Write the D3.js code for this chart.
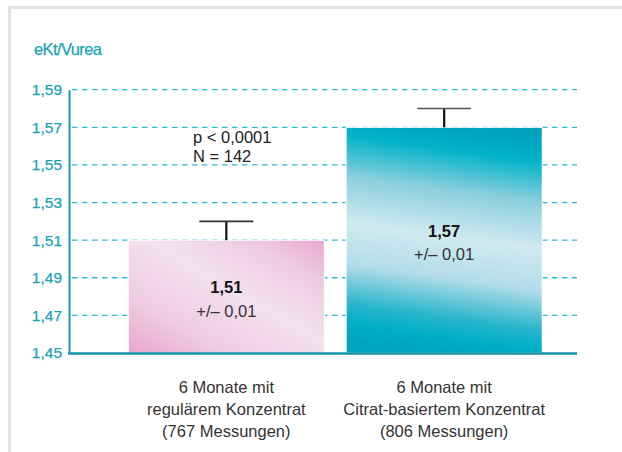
<html>
<head>
<meta charset="utf-8">
<script src="https://cdnjs.cloudflare.com/ajax/libs/d3/7.8.5/d3.min.js"></script>
<style>
  body { margin: 0; background: #fff; }
  svg text { font-family: "Liberation Sans", Arial, sans-serif; }
</style>
</head>
<body>
<div id="chart"></div>
<script>
// data
var categories = [
  ["6 Monate mit", "regulärem Konzentrat", "(767 Messungen)"],
  ["6 Monate mit", "Citrat-basiertem Konzentrat", "(806 Messungen)"]
];
var values = [1.51, 1.57];
var errors = [0.01, 0.01];
var valueLabels = ["1,51", "1,57"];
var errLabels = ["+/\u2013 0,01", "+/\u2013 0,01"];
var ticks = [1.45, 1.47, 1.49, 1.51, 1.53, 1.55, 1.57, 1.59];
var statLines = ["p < 0,0001", "N = 142"];

var W = 622, H = 452;
var fmt = function(v){ return d3.format(".2f")(v).replace(".", ","); };

var svg = d3.select("#chart").append("svg")
  .attr("width", W).attr("height", H);

// gradients
var defs = svg.append("defs");
var pink = defs.append("linearGradient").attr("id", "gPink")
  .attr("x1", 0).attr("y1", 1).attr("x2", 1).attr("y2", 0);
[[0, "#e8a6cd"], [0.25, "#efcbe1"], [0.55, "#f3e2ee"], [0.8, "#eecbe0"], [1, "#e8a8cf"]]
  .forEach(function(s){ pink.append("stop").attr("offset", s[0]).attr("stop-color", s[1]); });
var teal = defs.append("linearGradient").attr("id", "gTeal")
  .attr("x1", 0.56).attr("y1", 0).attr("x2", 0.44).attr("y2", 1);
[[0, "#00a2be"], [0.1, "#00b3c9"], [0.28, "#8ccfdd"], [0.48, "#d0e9f0"], [0.66, "#b4dde8"], [0.84, "#26b5cb"], [0.92, "#00afc6"], [1, "#00a4c0"]]
  .forEach(function(s){ teal.append("stop").attr("offset", s[0]).attr("stop-color", s[1]); });

// frame
svg.append("path").attr("d", "M9.5," + H + "V7.5H" + W)
  .attr("fill", "none").attr("stroke", "#e4e4e4").attr("stroke-width", 3);

var y = d3.scaleLinear().domain([1.45, 1.59]).range([353, 89.7]);
var x = d3.scaleBand().domain([0, 1]).range([106.5, 564])
  .paddingInner(0.1).paddingOuter(0.1);
var x0 = 69, x1 = 577;

// title
svg.append("text").attr("x", 34).attr("y", 55)
  .attr("fill", "#1aa2b9").attr("font-size", 16.5).attr("letter-spacing", -0.6)
  .attr("stroke", "#1aa2b9").attr("stroke-width", 0.25)
  .text("eKt/Vurea");

// grid
svg.append("g").selectAll("line").data(ticks.slice(1)).join("line")
  .attr("x1", x0 + 3).attr("x2", x1)
  .attr("y1", function(d){ return y(d); }).attr("y2", function(d){ return y(d); })
  .attr("stroke", "#2cbcd2").attr("stroke-width", 1.3)
  .attr("stroke-dasharray", "5.5,4.5");

// y axis
var yAxis = svg.append("g").attr("transform", "translate(" + x0 + ",0)")
  .call(d3.axisLeft(y).tickValues(ticks).tickFormat(fmt).tickSize(0).tickPadding(7));
yAxis.select(".domain").attr("stroke", "#1896aa").attr("stroke-width", 2);
yAxis.selectAll("text").attr("fill", "#1aa0b7").attr("font-size", 15.5)
  .attr("stroke", "#1aa0b7").attr("stroke-width", 0.25)
  .attr("font-family", "Liberation Sans, Arial, sans-serif");

// bars
var idx = d3.range(values.length);
svg.append("g").selectAll("rect").data(idx).join("rect")
  .attr("x", function(i){ return x(i); })
  .attr("width", x.bandwidth())
  .attr("y", function(i){ return y(values[i]); })
  .attr("height", function(i){ return y(1.45) - y(values[i]); })
  .attr("fill", function(i){ return i === 0 ? "url(#gPink)" : "url(#gTeal)"; })
  .attr("stroke", "#fff").attr("stroke-width", 1);

// baseline
svg.append("line").attr("x1", x0 - 1).attr("x2", x1)
  .attr("y1", y(1.45) + 0.5).attr("y2", y(1.45) + 0.5)
  .attr("stroke", "#1495a9").attr("stroke-width", 2.5);

// error bars
var eb = svg.append("g");
idx.forEach(function(i){
  var cx = x(i) + x.bandwidth() / 2;
  eb.append("line").attr("x1", cx).attr("x2", cx)
    .attr("y1", y(values[i])).attr("y2", y(values[i] + errors[i]))
    .attr("stroke", "#111").attr("stroke-width", 2.2);
  eb.append("line").attr("x1", cx - 27).attr("x2", cx + 27)
    .attr("y1", y(values[i] + errors[i])).attr("y2", y(values[i] + errors[i]))
    .attr("stroke", i === 0 ? "#333" : "#555").attr("stroke-width", 1.6);
});

// value labels inside bars
var labelAt = [1.4819, 1.5117];
idx.forEach(function(i){
  var cx = x(i) + x.bandwidth() / 2;
  svg.append("text").attr("x", cx).attr("y", y(labelAt[i]))
    .attr("text-anchor", "middle").attr("font-size", 16.5).attr("font-weight", "bold")
    .attr("fill", "#111").text(valueLabels[i]);
  svg.append("text").attr("x", cx).attr("y", y(labelAt[i]) + 23.5)
    .attr("text-anchor", "middle").attr("font-size", 16.5)
    .attr("fill", "#333").text(errLabels[i]);
});

// stats text
svg.append("g").selectAll("text").data(statLines).join("text")
  .attr("x", 193).attr("y", function(d, k){ return 143 + k * 18.5; })
  .attr("font-size", 16.5).attr("fill", "#222").text(function(d){ return d; });

// category labels
idx.forEach(function(i){
  var cx = x(i) + x.bandwidth() / 2;
  svg.append("g").selectAll("text").data(categories[i]).join("text")
    .attr("x", cx).attr("y", function(d, k){ return 393 + k * 22; })
    .attr("text-anchor", "middle").attr("font-size", 16.5).attr("fill", "#333")
    .text(function(d){ return d; });
});
</script>
</body>
</html>
